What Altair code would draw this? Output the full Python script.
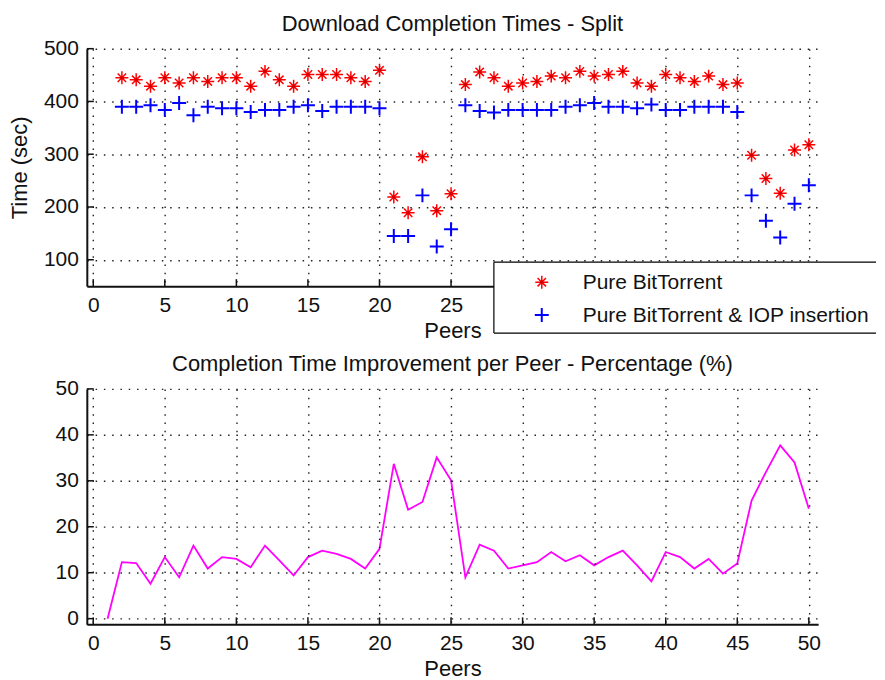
import altair as alt
import pandas as pd

FONT = "Liberation Sans"
TXT = "#111111"

# ---------------- data ----------------
peers_top = list(range(2, 51))
pure_bt = [445, 441, 429, 445, 435, 445, 438, 445, 445, 429, 457, 441, 429, 451, 451,
           451, 445, 438, 459, 219, 189, 295, 193, 225, 432, 456, 445, 429, 435, 438,
           448, 445, 457, 448, 451, 457, 435, 429, 451, 445, 438, 448, 432, 435, 298,
           254, 226, 308, 318]
iop_bt = [390, 390, 393, 384, 397, 374, 390, 387, 387, 380, 384, 384, 390, 393, 382,
          390, 390, 390, 387, 145, 145, 222, 125, 158, 393, 382, 379, 384, 384, 384,
          384, 390, 393, 397, 390, 390, 387, 394, 384, 384, 390, 390, 390, 380, 222,
          174, 142, 206, 241]

peers_bottom = list(range(1, 51))
improvement = [0, 12.3, 12.1, 7.6, 13.4, 9.0, 15.9, 10.9, 13.4, 13.0, 11.2, 15.9, 12.7,
               9.4, 13.4, 14.8, 14.1, 13.0, 10.9, 15.2, 33.7, 23.7, 25.4, 35.1, 30.1,
               9.0, 16.1, 14.8, 10.9, 11.6, 12.3, 14.5, 12.5, 13.8, 11.6, 13.4, 14.8,
               11.6, 8.1, 14.5, 13.4, 10.9, 13.0, 9.8, 12.0, 25.7, 31.9, 37.7, 34.0, 23.9]

x_ticks = [0, 5, 10, 15, 20, 25, 30, 35, 40, 45, 50]
y_ticks_top = [100, 200, 300, 400, 500]
y_ticks_bottom = [0, 10, 20, 30, 40, 50]
legend_labels = ["Pure BitTorrent", "Pure BitTorrent & IOP insertion"]
titles = ["Download Completion Times - Split",
          "Completion Time Improvement per Peer - Percentage (%)"]

# ---------------- layout / style ----------------
W = 733
H1 = 238
H2 = 236
TICK = 7
STAR = "M-1,0L1,0M0,-1L0,1M-0.65,-0.65L0.65,0.65M-0.65,0.65L0.65,-0.65"
PLUS = "M-1,0L1,0M0,-1L0,1"

top_df = pd.DataFrame({"peer": peers_top, "pure": pure_bt, "iop": iop_bt})
bot_df = pd.DataFrame({"peer": peers_bottom, "imp": improvement})
xt_df = pd.DataFrame({"v": x_ticks})
yt1_df = pd.DataFrame({"v": y_ticks_top})
yt2_df = pd.DataFrame({"v": y_ticks_bottom})
leg_df = pd.DataFrame({"label": legend_labels})
title_df = pd.DataFrame({"t": titles})

xscale = alt.Scale(domain=[-0.45, 50.65], nice=False, zero=False)
y1scale = alt.Scale(domain=[50, 500], nice=False, zero=False)
y2scale = alt.Scale(domain=[-1.24, 50], nice=False, zero=False)

grid_kw = dict(grid=True, gridDash=[1.5, 6.8], gridColor="#222222", gridWidth=1.4,
               ticks=False, domainColor="#111111", domainWidth=2,
               labelFont=FONT, labelFontSize=21, labelColor=TXT, labelPadding=8.5,
               titleFont=FONT, titleFontSize=22, titleFontWeight="normal", titleColor=TXT)


def title_text(i, dy):
    return alt.Chart(title_df).transform_filter(alt.datum.t == titles[i]).mark_text(
        align="center", baseline="alphabetic", font=FONT, fontSize=22, color=TXT).encode(
        x=alt.value(W / 2), y=alt.value(dy), text="t:N")


# ---------------- top panel ----------------
top_base = alt.Chart(top_df)
# labels from 30 on sit under the legend box in the original, so they are not drawn
x_axis_top = alt.Axis(values=x_ticks, title="Peers", titlePadding=5, zindex=0,
                      labelExpr="datum.value < 28 ? datum.label : ''", **grid_kw)
x_axis_bot = alt.Axis(values=x_ticks, title="Peers", titlePadding=5, zindex=1, **grid_kw)

red_star = top_base.mark_point(shape=STAR, filled=False, size=169, strokeWidth=1.5,
                               color="#ff0000", opacity=1).encode(
    x=alt.X("peer:Q", scale=xscale, axis=x_axis_top),
    y=alt.Y("pure:Q", scale=y1scale,
            axis=alt.Axis(values=y_ticks_top, title="Time (sec)", titlePadding=12, **grid_kw)))
red_dot = top_base.mark_point(shape="circle", filled=True, size=10, color="#cc0000",
                              opacity=1).encode(x="peer:Q", y="pure:Q")
blue_plus = top_base.mark_point(shape=PLUS, filled=False, size=196, strokeWidth=2,
                                color="#0000ff", opacity=1).encode(x="peer:Q", y="iop:Q")

xt_top = alt.Chart(xt_df).mark_rule(color="#111111", strokeWidth=1.5).encode(
    x="v:Q", y=alt.value(H1 - TICK), y2=alt.value(H1))
yt_top = alt.Chart(yt1_df).mark_rule(color="#111111", strokeWidth=1.5).encode(
    y="v:Q", x=alt.value(0), x2=alt.value(TICK))

# legend box (drawn over the axis like the original, open towards the right edge)
one = pd.DataFrame({"k": [0]})
LX0, LX1, LY0, LY1 = 408, 791, 214, 285
leg_rect = alt.Chart(one).mark_rect(fill="white", stroke=None).encode(
    x=alt.value(LX0), x2=alt.value(LX1), y=alt.value(LY0), y2=alt.value(LY1))
leg_top = alt.Chart(one).mark_rule(color="#000000", strokeWidth=1.2).encode(
    x=alt.value(LX0), x2=alt.value(LX1), y=alt.value(LY0))
leg_bot = alt.Chart(one).mark_rule(color="#000000", strokeWidth=1.2).encode(
    x=alt.value(LX0), x2=alt.value(LX1), y=alt.value(LY1))
leg_left = alt.Chart(one).mark_rule(color="#000000", strokeWidth=1.2).encode(
    x=alt.value(LX0), y=alt.value(LY0), y2=alt.value(LY1))
leg_star = alt.Chart(one).mark_point(shape=STAR, filled=False, size=169, strokeWidth=1.5,
                                     color="#ff0000", opacity=1).encode(
    x=alt.value(456), y=alt.value(234))
leg_stardot = alt.Chart(one).mark_point(shape="circle", filled=True, size=10,
                                        color="#cc0000", opacity=1).encode(
    x=alt.value(456), y=alt.value(234))
leg_plus = alt.Chart(one).mark_point(shape=PLUS, filled=False, size=196, strokeWidth=2,
                                     color="#0000ff", opacity=1).encode(
    x=alt.value(456), y=alt.value(267))
leg_txt1 = alt.Chart(leg_df).transform_filter(alt.datum.label == legend_labels[0]).mark_text(
    align="left", baseline="middle", font=FONT, fontSize=21, color=TXT).encode(
    x=alt.value(497), y=alt.value(235), text="label:N")
leg_txt2 = alt.Chart(leg_df).transform_filter(alt.datum.label == legend_labels[1]).mark_text(
    align="left", baseline="middle", font=FONT, fontSize=21, color=TXT).encode(
    x=alt.value(497), y=alt.value(268), text="label:N")

top = alt.layer(
    red_star, blue_plus, red_dot, xt_top, yt_top, title_text(0, -17.7),
    leg_rect, leg_top, leg_bot, leg_left, leg_star, leg_stardot, leg_plus, leg_txt1, leg_txt2,
).properties(width=W, height=H1)

# ---------------- bottom panel ----------------
line = alt.Chart(bot_df).mark_line(color="#ff00ff", strokeWidth=1.8).encode(
    x=alt.X("peer:Q", scale=xscale, axis=x_axis_bot),
    y=alt.Y("imp:Q", scale=y2scale,
            axis=alt.Axis(values=y_ticks_bottom, title=None, **grid_kw)))
xt_bot = alt.Chart(xt_df).mark_rule(color="#111111", strokeWidth=1.5).encode(
    x="v:Q", y=alt.value(H2 - TICK), y2=alt.value(H2))
yt_bot = alt.Chart(yt2_df).mark_rule(color="#111111", strokeWidth=1.5).encode(
    y="v:Q", x=alt.value(0), x2=alt.value(TICK))

bottom = alt.layer(line, xt_bot, yt_bot, title_text(1, -17.5)).properties(width=W, height=H2)

chart = alt.vconcat(top, bottom, spacing=103, bounds="flush").properties(
    padding={"left": 0, "top": 4, "right": 0, "bottom": 0},
    background="white",
).configure_view(stroke=None)

chart.save("out.html", embed_options={"renderer": "svg", "actions": False})
